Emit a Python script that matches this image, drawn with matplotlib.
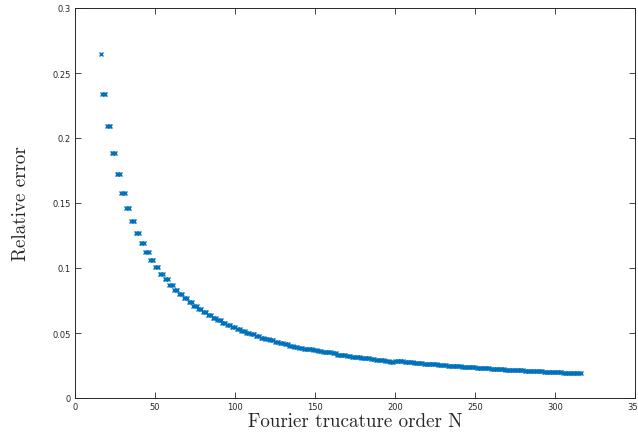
import matplotlib
matplotlib.use("Agg")
import matplotlib.pyplot as plt
import numpy as np

# truncation orders shown in the plot (16 ... 316)
orders = list(range(16, 317))

# relative error: N=16 alone, then one value for
# every run of three orders (17-19, 20-22, ..., 314-316)
first_err = 0.2646
group_err = [
    0.2338, 0.2090, 0.1887, 0.1721, 0.1579, 0.1462, 0.1359, 0.1272, 0.1192, 0.1123,
    0.1062, 0.1008, 0.0956, 0.0913, 0.0869, 0.0833, 0.0798, 0.0767, 0.0736, 0.0710,
    0.0685, 0.0659, 0.0638, 0.0615, 0.0598, 0.0579, 0.0562, 0.0546, 0.0533, 0.0518,
    0.0502, 0.0490, 0.0477, 0.0464, 0.0454, 0.0444, 0.0433, 0.0423, 0.0413, 0.0402,
    0.0395, 0.0387, 0.0380, 0.0374, 0.0368, 0.0362, 0.0357, 0.0352, 0.0347, 0.0334,
    0.0329, 0.0324, 0.0319, 0.0314, 0.0309, 0.0304, 0.0299, 0.0294, 0.0289, 0.0284,
    0.0279, 0.0287, 0.0283, 0.0279, 0.0275, 0.0272, 0.0268, 0.0265, 0.0262, 0.0259,
    0.0256, 0.0253, 0.0250, 0.0247, 0.0244, 0.0241, 0.0238, 0.0236, 0.0233, 0.0230,
    0.0228, 0.0225, 0.0223, 0.0221, 0.0219, 0.0216, 0.0214, 0.0212, 0.0210, 0.0208,
    0.0206, 0.0204, 0.0202, 0.0200, 0.0199, 0.0197, 0.0195, 0.0193, 0.0191, 0.0189,
]

x_ticks = [0, 50, 100, 150, 200, 250, 300, 350]
y_ticks = [0, 0.05, 0.1, 0.15, 0.2, 0.25, 0.3]
x_label = "Fourier trucature order N"
y_label = "Relative error"

rel_err = [first_err]
for v in group_err:
    rel_err += [v, v, v]
rel_err = np.array(rel_err[:len(orders)])

axis_col = "#262626"

fig = plt.figure(figsize=(6.38, 4.35), dpi=100)
ax = fig.add_axes([75 / 638, 36 / 435, 560 / 638, 390 / 435])

ax.plot(orders, rel_err, "x", color="#0072BD", markersize=3.2, markeredgewidth=1.0)

ax.set_xlim(0, 350)
ax.set_ylim(0, 0.3)
ax.set_xticks(x_ticks)
ax.set_yticks(y_ticks)
ax.set_xticklabels([str(t) for t in x_ticks])
ax.set_yticklabels(["0", "0.05", "0.1", "0.15", "0.2", "0.25", "0.3"])

ax.tick_params(direction="in", length=4, width=0.6, labelsize=6, colors=axis_col,
               top=True, right=True, pad=3)
for s in ax.spines.values():
    s.set_color(axis_col)
    s.set_linewidth(0.7)

ax.set_xlabel(x_label, fontfamily="cmr10", fontsize=13.7, color="#262626", labelpad=1)
ax.set_ylabel(y_label, fontfamily="cmr10", fontsize=13.7, color="#262626", labelpad=16)

fig.savefig("out.png", dpi=100)
